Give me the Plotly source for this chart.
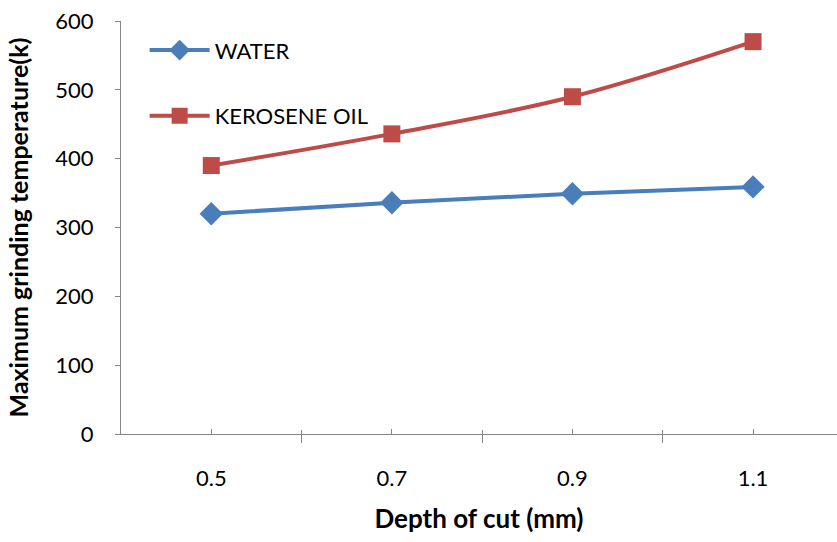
import plotly.graph_objects as go

depth = [0.5, 0.7, 0.9, 1.1]
water = [320, 336, 349, 359]
kerosene = [390, 436, 490, 570]
tick_labels = ["0.5", "0.7", "0.9", "1.1"]
boundaries = [0.4, 0.6, 0.8, 1.0]

blue = "#4A7EBB"
red = "#BE4B48"
axis_col = "#868686"
font = "Lato"

fig = go.Figure()
fig.add_trace(go.Scatter(x=depth, y=water, name="WATER", mode="lines+markers",
                         line=dict(color=blue, width=4, shape="spline"),
                         marker=dict(symbol="diamond", size=18, color=blue),
                         legendgroup="a"))
fig.add_trace(go.Scatter(x=depth, y=kerosene, name="KEROSENE OIL", mode="lines+markers",
                         line=dict(color=red, width=4, shape="spline"),
                         marker=dict(symbol="square", size=17, color=red),
                         legendgroup="b"))

fig.update_layout(
    width=837, height=542,
    margin=dict(l=121, r=0, t=21, b=108),
    plot_bgcolor="white", paper_bgcolor="white",
    font=dict(family=font, size=22, color="black"),
    showlegend=True,
    legend=dict(x=0.033, y=0.98, xanchor="left", yanchor="top",
                traceorder="grouped", tracegroupgap=34,
                font=dict(size=22), bgcolor="rgba(0,0,0,0)", itemwidth=60),
    xaxis=dict(range=[0.4, 1.193], tickvals=depth, ticktext=tick_labels,
               ticks="inside", ticklen=5, tickcolor=axis_col, tickwidth=1,
               showline=True, linecolor=axis_col, linewidth=1.3,
               showgrid=False, zeroline=False, ticklabelstandoff=24,
               minor=dict(tickvals=boundaries, ticks="outside", ticklen=8,
                          tickcolor=axis_col, tickwidth=1.3, showgrid=False),
               title=dict(text="<b>Depth of cut (mm)</b>", standoff=20,
                          font=dict(size=26))),
    xaxis2=dict(overlaying="x", range=[0.4, 1.193], tickvals=boundaries,
                showticklabels=False, ticks="inside", ticklen=4,
                tickcolor=axis_col, tickwidth=1.3, side="bottom",
                showline=False, showgrid=False, zeroline=False),
    yaxis=dict(range=[0, 600], tickvals=[0, 100, 200, 300, 400, 500, 600],
               ticks="outside", ticklen=5, tickcolor=axis_col, tickwidth=1.3,
               showline=True, linecolor=axis_col, linewidth=1.3,
               showgrid=False, zeroline=False, ticklabelstandoff=17,
               title=dict(text="<b>Maximum grinding temperature(k)</b>",
                          standoff=19, font=dict(size=25))),
)
fig.add_trace(go.Scatter(x=[None], y=[None], xaxis="x2", showlegend=False,
                         hoverinfo="skip"))

fig.write_html("out.html", config={"displayModeBar": False},
               post_script="document.body.style.margin='0px';")
